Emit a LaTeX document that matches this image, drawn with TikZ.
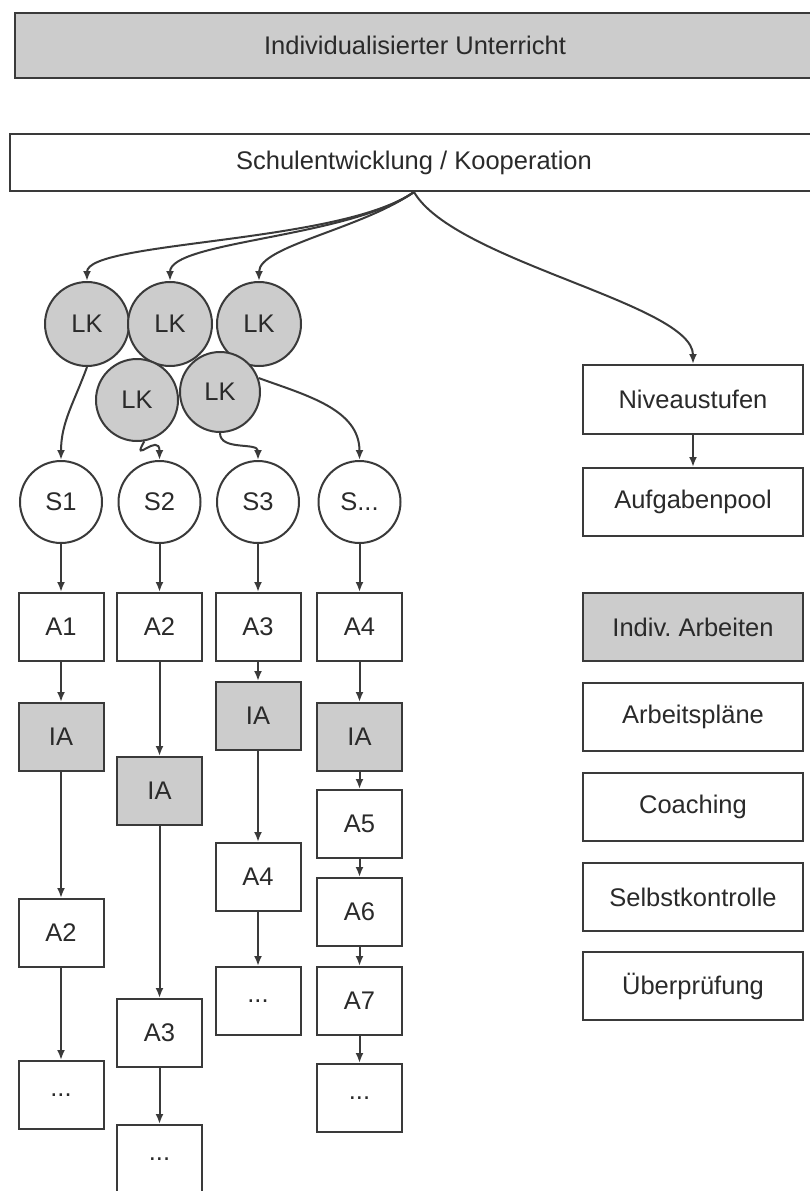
\documentclass[tikz,border=0pt]{standalone}
\usepackage{fontspec}
\setmainfont{Liberation Sans}
\frenchspacing
\usetikzlibrary{arrows.meta,positioning}
\definecolor{linegray}{HTML}{3A3A3A}
\definecolor{boxgray}{HTML}{CCCCCC}
\definecolor{textgray}{HTML}{2A2A2A}
\tikzset{
  box/.style={draw=linegray, line width=2pt, fill=white, text=textgray,
              font=\fontsize{25.5}{30}\selectfont,
              minimum width=85pt, minimum height=68pt, inner sep=2pt},
  wbox/.style={box, minimum width=220pt},
  grey/.style={fill=boxgray},
  circ/.style={box, circle, minimum size=82pt, inner sep=0pt},
  arr/.style={-{Latex[length=10pt,width=8pt]}, line width=2pt, draw=linegray}
}

\begin{document}
\begin{tikzpicture}[x=1pt, y=1pt]
    \useasboundingbox (0,0) rectangle (810,-1191);
    \node[box, grey, minimum width=800pt, minimum height=65pt] (IU) at (415,-45.5) {Individualisierter Unterricht};
    \node[box, minimum width=808pt, minimum height=57pt] (SK) at (414,-162.5) {Schulentwicklung / Kooperation};

    \node[circ, grey, minimum size=84pt] (LK1) at (87,-324) {LK};
    \node[circ, grey, minimum size=84pt] (LK2) at (170,-324) {LK};
    \node[circ, grey, minimum size=84pt] (LK3) at (259,-324) {LK};
    \node[circ, grey, minimum size=82pt] (LK4) at (137,-400) {LK};
    \node[circ, grey, minimum size=80pt] (LK5) at (220,-392) {LK};

    % column 1
    \node[box] (A11) at (61,-627) {A1};
    \node[box, grey, below=40pt of A11] (A12) {IA};
    \node[box, below=126pt of A12] (A13) {A2};
    \node[box, below=92pt of A13] (A14) {...};
    % column 2
    \node[box] (A21) at (159.5,-627) {A2};
    \node[box, grey, below=94pt of A21] (A22) {IA};
    \node[box, below=172pt of A22] (A23) {A3};
    \node[box, below=56pt of A23] (A24) {...};
    % column 3
    \node[box] (A31) at (258,-627) {A3};
    \node[box, grey, below=19pt of A31] (A32) {IA};
    \node[box, below=91pt of A32] (A33) {A4};
    \node[box, below=54pt of A33] (A34) {...};
    % column 4
    \node[box] (A41) at (359.5,-627) {A4};
    \node[box, grey, below=40pt of A41] (A42) {IA};
    \node[box, below=17pt of A42] (A43) {A5};
    \node[box, below=18pt of A43] (A44) {A6};
    \node[box, below=19pt of A44] (A45) {A7};
    \node[box, below=27pt of A45] (A46) {...};

    \node[circ, above=48pt of A11] (S1) {S1};
    \node[circ, above=48pt of A21] (S2) {S2};
    \node[circ, above=48pt of A31] (S3) {S3};
    \node[circ, above=48pt of A41] (S4) {S...};

    % right column
    \node[wbox, minimum height=69pt] (NS) at (693,-399.5) {Niveaustufen};
    \node[wbox, below=32pt of NS] (AP) {Aufgabenpool};
    \node[wbox, grey, below=55pt of AP] (IndA) {Indiv. Arbeiten};
    \node[wbox, below=20pt of IndA] (APl) {Arbeitspläne};
    \node[wbox, below=20pt of APl] (CO) {Coaching};
    \node[wbox, below=20pt of CO] (SeK) {Selbstkontrolle};
    \node[wbox, below=19pt of SeK] (UP) {Überprüfung};

    \draw[arr] (SK.south) to[out=215, in=90, out distance=90pt, in distance=40pt] (LK1.north);
    \draw[arr] (SK.south) to[out=215, in=90, out distance=80pt, in distance=40pt] (LK2.north);
    \draw[arr] (SK.south) to[out=215, in=90, out distance=65pt, in distance=35pt] (LK3.north);
    \draw[arr] (SK.south) to[out=-60, in=90, out distance=80pt, in distance=60pt] (NS.north);
    \draw[arr] (NS) -- (AP);

    \draw[arr] (LK1.south) to[out=-110, in=90] (S1.north);
    \draw[arr] (LK4.-80) to[out=-120, in=90, looseness=3] (S2.north);
    \draw[arr] (LK5.south) to[out=-90, in=90] (S3.north);
    \draw[arr] (LK5.20) to[out=-20, in=90] (S4.north);

    \draw[arr] (S1) -- (A11);
    \draw[arr] (S2) -- (A21);
    \draw[arr] (S3) -- (A31);
    \draw[arr] (S4) -- (A41);

    \draw[arr] (A11) -- (A12);
    \draw[arr] (A12) -- (A13);
    \draw[arr] (A13) -- (A14);
    \draw[arr] (A21) -- (A22);
    \draw[arr] (A22) -- (A23);
    \draw[arr] (A23) -- (A24);
    \draw[arr] (A31) -- (A32);
    \draw[arr] (A32) -- (A33);
    \draw[arr] (A33) -- (A34);
    \draw[arr] (A41) -- (A42);
    \draw[arr] (A42) -- (A43);
    \draw[arr] (A43) -- (A44);
    \draw[arr] (A44) -- (A45);
    \draw[arr] (A45) -- (A46);
  \end{tikzpicture}
\end{document}
